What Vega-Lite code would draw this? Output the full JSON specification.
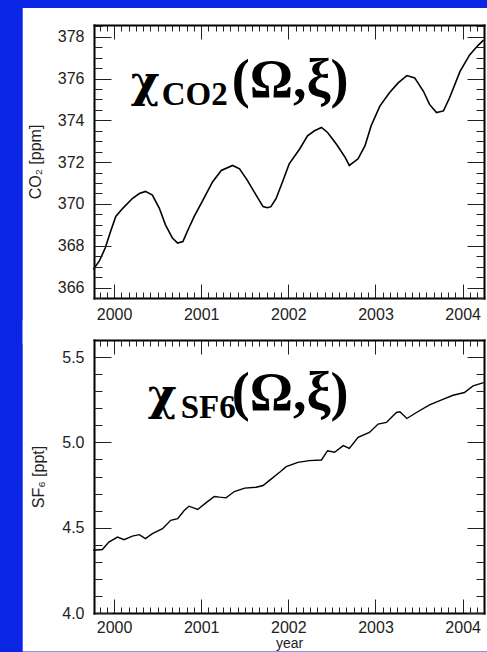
{
  "$schema": "https://vega.github.io/schema/vega-lite/v6.json",
  "background": "#0a26e4",
  "padding": {"left": 22, "top": 8, "right": 0, "bottom": 0},
  "autosize": {"type": "pad"},
  "bounds": "flush",
  "spacing": 42,
  "config": {
    "view": {"stroke": null},
    "axis": {
      "grid": false,
      "labelFont": "Liberation Sans",
      "labelFontSize": 16,
      "labelColor": "#222222",
      "tickColor": "#222222",
      "tickWidth": 1,
      "domainColor": "#000000",
      "domainWidth": 2,
      "domainCap": "square",
      "titleFont": "Liberation Sans",
      "titleFontWeight": "normal",
      "titleFontSize": 16,
      "titleColor": "#222222"
    }
  },
  "datasets": {
    "co2": [
      {"t": 1999.762, "v": 366.87}, {"t": 1999.83, "v": 367.26}, {"t": 1999.90, "v": 367.9}, {"t": 1999.96, "v": 368.68},
      {"t": 2000.02, "v": 369.4}, {"t": 2000.10, "v": 369.79}, {"t": 2000.21, "v": 370.26}, {"t": 2000.29, "v": 370.5},
      {"t": 2000.36, "v": 370.6}, {"t": 2000.44, "v": 370.42}, {"t": 2000.52, "v": 369.79}, {"t": 2000.59, "v": 369.0},
      {"t": 2000.67, "v": 368.37}, {"t": 2000.73, "v": 368.13}, {"t": 2000.79, "v": 368.2}, {"t": 2000.84, "v": 368.68},
      {"t": 2000.92, "v": 369.4}, {"t": 2001.02, "v": 370.18}, {"t": 2001.13, "v": 371.05}, {"t": 2001.23, "v": 371.6},
      {"t": 2001.36, "v": 371.84}, {"t": 2001.44, "v": 371.68}, {"t": 2001.53, "v": 371.13}, {"t": 2001.63, "v": 370.42},
      {"t": 2001.71, "v": 369.87}, {"t": 2001.76, "v": 369.82}, {"t": 2001.80, "v": 369.87}, {"t": 2001.86, "v": 370.26},
      {"t": 2001.94, "v": 371.13}, {"t": 2002.01, "v": 371.92}, {"t": 2002.13, "v": 372.63}, {"t": 2002.22, "v": 373.26},
      {"t": 2002.30, "v": 373.5}, {"t": 2002.38, "v": 373.66}, {"t": 2002.45, "v": 373.42}, {"t": 2002.55, "v": 372.87},
      {"t": 2002.65, "v": 372.24}, {"t": 2002.70, "v": 371.84}, {"t": 2002.80, "v": 372.16}, {"t": 2002.88, "v": 372.79},
      {"t": 2002.95, "v": 373.74}, {"t": 2003.05, "v": 374.68}, {"t": 2003.16, "v": 375.32}, {"t": 2003.26, "v": 375.79},
      {"t": 2003.36, "v": 376.14}, {"t": 2003.45, "v": 376.03}, {"t": 2003.55, "v": 375.39}, {"t": 2003.62, "v": 374.76},
      {"t": 2003.70, "v": 374.37}, {"t": 2003.78, "v": 374.45}, {"t": 2003.85, "v": 375.08}, {"t": 2003.97, "v": 376.34},
      {"t": 2004.08, "v": 377.13}, {"t": 2004.18, "v": 377.6}, {"t": 2004.24, "v": 377.84}
    ],
    "sf6": [
      {"t": 1999.762, "v": 4.368}, {"t": 1999.866, "v": 4.372}, {"t": 1999.94, "v": 4.416}, {"t": 2000.04, "v": 4.445},
      {"t": 2000.115, "v": 4.43}, {"t": 2000.21, "v": 4.451}, {"t": 2000.29, "v": 4.459}, {"t": 2000.36, "v": 4.436},
      {"t": 2000.44, "v": 4.465}, {"t": 2000.556, "v": 4.494}, {"t": 2000.65, "v": 4.543}, {"t": 2000.73, "v": 4.553},
      {"t": 2000.805, "v": 4.601}, {"t": 2000.86, "v": 4.626}, {"t": 2000.96, "v": 4.607}, {"t": 2001.05, "v": 4.644},
      {"t": 2001.15, "v": 4.683}, {"t": 2001.21, "v": 4.679}, {"t": 2001.285, "v": 4.675}, {"t": 2001.38, "v": 4.712},
      {"t": 2001.50, "v": 4.732}, {"t": 2001.63, "v": 4.737}, {"t": 2001.71, "v": 4.747}, {"t": 2001.78, "v": 4.776},
      {"t": 2001.90, "v": 4.825}, {"t": 2001.975, "v": 4.858}, {"t": 2002.11, "v": 4.883}, {"t": 2002.24, "v": 4.893},
      {"t": 2002.38, "v": 4.897}, {"t": 2002.45, "v": 4.951}, {"t": 2002.53, "v": 4.942}, {"t": 2002.63, "v": 4.981},
      {"t": 2002.70, "v": 4.965}, {"t": 2002.80, "v": 5.029}, {"t": 2002.93, "v": 5.058}, {"t": 2003.03, "v": 5.107},
      {"t": 2003.125, "v": 5.117}, {"t": 2003.24, "v": 5.175}, {"t": 2003.28, "v": 5.179}, {"t": 2003.36, "v": 5.14},
      {"t": 2003.47, "v": 5.175}, {"t": 2003.62, "v": 5.22}, {"t": 2003.78, "v": 5.253}, {"t": 2003.89, "v": 5.276},
      {"t": 2004.02, "v": 5.292}, {"t": 2004.12, "v": 5.331}, {"t": 2004.24, "v": 5.35}
    ]
  },
  "vconcat": [
    {
      "width": 390,
      "height": 273,
      "data": {"name": "co2"},
      "resolve": {"axis": {"x": "independent", "y": "independent"}},
      "layer": [
        {
          "data": {"values": [{}]},
          "mark": {"type": "rect", "color": "white", "clip": false},
          "encoding": {
            "x": {"datum": 1998.952, "type": "quantitative", "scale": {"domain": [1999.77, 2004.245], "nice": false, "zero": false}, "axis": null},
            "x2": {"datum": 2004.2852},
            "y": {"datum": 379.373, "type": "quantitative", "scale": {"domain": [365.5, 378.56], "nice": false, "zero": false}, "axis": null},
            "y2": {"datum": 363.3}
          }
        },
        {
          "mark": {"type": "line", "color": "black", "strokeWidth": 1.6},
          "encoding": {
            "x": {"field": "t", "type": "quantitative", "scale": {"domain": [1999.77, 2004.245], "nice": false, "zero": false},
              "axis": {"zindex": 2, "orient": "bottom", "values": [2000, 2001, 2002, 2003, 2004], "format": "d", "tickSize": -14, "labelPadding": 22, "domain": true, "title": null}},
            "y": {"field": "v", "type": "quantitative", "scale": {"domain": [365.5, 378.56], "nice": false, "zero": false},
              "axis": {"zindex": 2, "orient": "left", "values": [366, 368, 370, 372, 374, 376, 378], "format": "d", "tickSize": -17, "labelPadding": 27, "domain": true, "title": "CO₂ [ppm]", "titlePadding": 14}}
          }
        },
        {
          "mark": {"type": "line", "opacity": 0},
          "encoding": {
            "x": {"field": "t", "type": "quantitative",
              "axis": {"zindex": 2, "orient": "bottom", "values": [1999.8333, 1999.9167, 2000.0833, 2000.1667, 2000.25, 2000.3333, 2000.4167, 2000.5, 2000.5833, 2000.6667, 2000.75, 2000.8333, 2000.9167, 2001.0833, 2001.1667, 2001.25, 2001.3333, 2001.4167, 2001.5, 2001.5833, 2001.6667, 2001.75, 2001.8333, 2001.9167, 2002.0833, 2002.1667, 2002.25, 2002.3333, 2002.4167, 2002.5, 2002.5833, 2002.6667, 2002.75, 2002.8333, 2002.9167, 2003.0833, 2003.1667, 2003.25, 2003.3333, 2003.4167, 2003.5, 2003.5833, 2003.6667, 2003.75, 2003.8333, 2003.9167, 2004.0833, 2004.1667], "tickSize": -6, "labels": false, "domain": false, "title": null}},
            "y": {"field": "v", "type": "quantitative",
              "axis": {"zindex": 2, "orient": "left", "values": [365.5, 366.5, 367, 367.5, 368.5, 369, 369.5, 370.5, 371, 371.5, 372.5, 373, 373.5, 374.5, 375, 375.5, 376.5, 377, 377.5, 378.5], "tickSize": -8, "labels": false, "domain": false, "title": null}}
          }
        },
        {
          "mark": {"type": "line", "opacity": 0},
          "encoding": {
            "x": {"field": "t", "type": "quantitative",
              "axis": {"zindex": 2, "orient": "top", "values": [2000, 2001, 2002, 2003, 2004], "tickSize": -14, "labels": false, "domain": true, "title": null}},
            "y": {"field": "v", "type": "quantitative",
              "axis": {"zindex": 2, "orient": "right", "values": [366, 368, 370, 372, 374, 376, 378], "tickSize": -17, "labels": false, "domain": true, "title": null}}
          }
        },
        {
          "mark": {"type": "line", "opacity": 0},
          "encoding": {
            "x": {"field": "t", "type": "quantitative",
              "axis": {"zindex": 2, "orient": "top", "values": [1999.8333, 1999.9167, 2000.0833, 2000.1667, 2000.25, 2000.3333, 2000.4167, 2000.5, 2000.5833, 2000.6667, 2000.75, 2000.8333, 2000.9167, 2001.0833, 2001.1667, 2001.25, 2001.3333, 2001.4167, 2001.5, 2001.5833, 2001.6667, 2001.75, 2001.8333, 2001.9167, 2002.0833, 2002.1667, 2002.25, 2002.3333, 2002.4167, 2002.5, 2002.5833, 2002.6667, 2002.75, 2002.8333, 2002.9167, 2003.0833, 2003.1667, 2003.25, 2003.3333, 2003.4167, 2003.5, 2003.5833, 2003.6667, 2003.75, 2003.8333, 2003.9167, 2004.0833, 2004.1667], "tickSize": -6, "labels": false, "domain": false, "title": null}},
            "y": {"field": "v", "type": "quantitative",
              "axis": {"zindex": 2, "orient": "right", "values": [365.5, 366.5, 367, 367.5, 368.5, 369, 369.5, 370.5, 371, 371.5, 372.5, 373, 373.5, 374.5, 375, 375.5, 376.5, 377, 377.5, 378.5], "tickSize": -8, "labels": false, "domain": false, "title": null}}
          }
        },
        {
          "data": {"values": [{}]},
          "mark": {"type": "text", "font": "DejaVu Serif", "fontWeight": "bold", "fontSize": 44, "align": "left", "baseline": "alphabetic", "color": "black"},
          "encoding": {
            "x": {"datum": 2000.191, "type": "quantitative", "axis": null},
            "y": {"datum": 375.116, "type": "quantitative", "axis": null},
            "text": {"value": "χ"}
          }
        },
        {
          "data": {"values": [{}]},
          "mark": {"type": "text", "font": "Liberation Serif", "fontWeight": "bold", "fontSize": 33, "align": "left", "baseline": "alphabetic", "color": "black"},
          "encoding": {
            "x": {"datum": 2000.547, "type": "quantitative", "axis": null},
            "y": {"datum": 374.73, "type": "quantitative", "axis": null},
            "text": {"value": "CO2"}
          }
        },
        {
          "data": {"values": [{}]},
          "mark": {"type": "text", "font": "Liberation Serif", "fontWeight": "bold", "fontSize": 54, "align": "left", "baseline": "alphabetic", "color": "black"},
          "encoding": {
            "x": {"datum": 2001.35, "type": "quantitative", "axis": null},
            "y": {"datum": 375.116, "type": "quantitative", "axis": null},
            "text": {"value": "(Ω,ξ)"}
          }
        }
      ]
    },
    {
      "width": 390,
      "height": 273,
      "data": {"name": "sf6"},
      "resolve": {"axis": {"x": "independent", "y": "independent"}},
      "layer": [
        {
          "data": {"values": [{}]},
          "mark": {"type": "rect", "color": "white", "clip": false},
          "encoding": {
            "x": {"datum": 1998.952, "type": "quantitative", "scale": {"domain": [1999.77, 2004.245], "nice": false, "zero": false}, "axis": null},
            "x2": {"datum": 2004.2852},
            "y": {"datum": 5.717, "type": "quantitative", "scale": {"domain": [4.0, 5.6], "nice": false, "zero": false}, "axis": null},
            "y2": {"datum": 3.7738}
          }
        },
        {
          "mark": {"type": "line", "color": "black", "strokeWidth": 1.4},
          "encoding": {
            "x": {"field": "t", "type": "quantitative", "scale": {"domain": [1999.77, 2004.245], "nice": false, "zero": false},
              "axis": {"zindex": 2, "orient": "bottom", "values": [2000, 2001, 2002, 2003, 2004], "format": "d", "tickSize": -14, "labelPadding": 20, "domain": true, "title": "year", "titlePadding": 1, "titleFontSize": 14}},
            "y": {"field": "v", "type": "quantitative", "scale": {"domain": [4.0, 5.6], "nice": false, "zero": false},
              "axis": {"zindex": 2, "orient": "left", "values": [4.0, 4.5, 5.0, 5.5], "format": ".1f", "tickSize": -17, "labelPadding": 27, "domain": true, "title": "SF₆ [ppt]", "titlePadding": 15}}
          }
        },
        {
          "mark": {"type": "line", "opacity": 0},
          "encoding": {
            "x": {"field": "t", "type": "quantitative",
              "axis": {"zindex": 2, "orient": "bottom", "values": [1999.8333, 1999.9167, 2000.0833, 2000.1667, 2000.25, 2000.3333, 2000.4167, 2000.5, 2000.5833, 2000.6667, 2000.75, 2000.8333, 2000.9167, 2001.0833, 2001.1667, 2001.25, 2001.3333, 2001.4167, 2001.5, 2001.5833, 2001.6667, 2001.75, 2001.8333, 2001.9167, 2002.0833, 2002.1667, 2002.25, 2002.3333, 2002.4167, 2002.5, 2002.5833, 2002.6667, 2002.75, 2002.8333, 2002.9167, 2003.0833, 2003.1667, 2003.25, 2003.3333, 2003.4167, 2003.5, 2003.5833, 2003.6667, 2003.75, 2003.8333, 2003.9167, 2004.0833, 2004.1667], "tickSize": -6, "labels": false, "domain": false, "title": null}},
            "y": {"field": "v", "type": "quantitative",
              "axis": {"zindex": 2, "orient": "left", "values": [4.1, 4.2, 4.3, 4.4, 4.6, 4.7, 4.8, 4.9, 5.1, 5.2, 5.3, 5.4], "tickSize": -8, "labels": false, "domain": false, "title": null}}
          }
        },
        {
          "mark": {"type": "line", "opacity": 0},
          "encoding": {
            "x": {"field": "t", "type": "quantitative",
              "axis": {"zindex": 2, "orient": "top", "values": [2000, 2001, 2002, 2003, 2004], "tickSize": -14, "labels": false, "domain": true, "title": null}},
            "y": {"field": "v", "type": "quantitative",
              "axis": {"zindex": 2, "orient": "right", "values": [4.0, 4.5, 5.0, 5.5], "tickSize": -17, "labels": false, "domain": true, "title": null}}
          }
        },
        {
          "mark": {"type": "line", "opacity": 0},
          "encoding": {
            "x": {"field": "t", "type": "quantitative",
              "axis": {"zindex": 2, "orient": "top", "values": [1999.8333, 1999.9167, 2000.0833, 2000.1667, 2000.25, 2000.3333, 2000.4167, 2000.5, 2000.5833, 2000.6667, 2000.75, 2000.8333, 2000.9167, 2001.0833, 2001.1667, 2001.25, 2001.3333, 2001.4167, 2001.5, 2001.5833, 2001.6667, 2001.75, 2001.8333, 2001.9167, 2002.0833, 2002.1667, 2002.25, 2002.3333, 2002.4167, 2002.5, 2002.5833, 2002.6667, 2002.75, 2002.8333, 2002.9167, 2003.0833, 2003.1667, 2003.25, 2003.3333, 2003.4167, 2003.5, 2003.5833, 2003.6667, 2003.75, 2003.8333, 2003.9167, 2004.0833, 2004.1667], "tickSize": -6, "labels": false, "domain": false, "title": null}},
            "y": {"field": "v", "type": "quantitative",
              "axis": {"zindex": 2, "orient": "right", "values": [4.1, 4.2, 4.3, 4.4, 4.6, 4.7, 4.8, 4.9, 5.1, 5.2, 5.3, 5.4], "tickSize": -8, "labels": false, "domain": false, "title": null}}
          }
        },
        {
          "data": {"values": [{}]},
          "mark": {"type": "text", "font": "DejaVu Serif", "fontWeight": "bold", "fontSize": 44, "align": "left", "baseline": "alphabetic", "color": "black"},
          "encoding": {
            "x": {"datum": 2000.386, "type": "quantitative", "axis": null},
            "y": {"datum": 5.1897, "type": "quantitative", "axis": null},
            "text": {"value": "χ"}
          }
        },
        {
          "data": {"values": [{}]},
          "mark": {"type": "text", "font": "Liberation Serif", "fontWeight": "bold", "fontSize": 33, "align": "left", "baseline": "alphabetic", "color": "black"},
          "encoding": {
            "x": {"datum": 2000.765, "type": "quantitative", "axis": null},
            "y": {"datum": 5.1429, "type": "quantitative", "axis": null},
            "text": {"value": "SF6"}
          }
        },
        {
          "data": {"values": [{}]},
          "mark": {"type": "text", "font": "Liberation Serif", "fontWeight": "bold", "fontSize": 54, "align": "left", "baseline": "alphabetic", "color": "black"},
          "encoding": {
            "x": {"datum": 2001.35, "type": "quantitative", "axis": null},
            "y": {"datum": 5.1897, "type": "quantitative", "axis": null},
            "text": {"value": "(Ω,ξ)"}
          }
        }
      ]
    }
  ]
}
